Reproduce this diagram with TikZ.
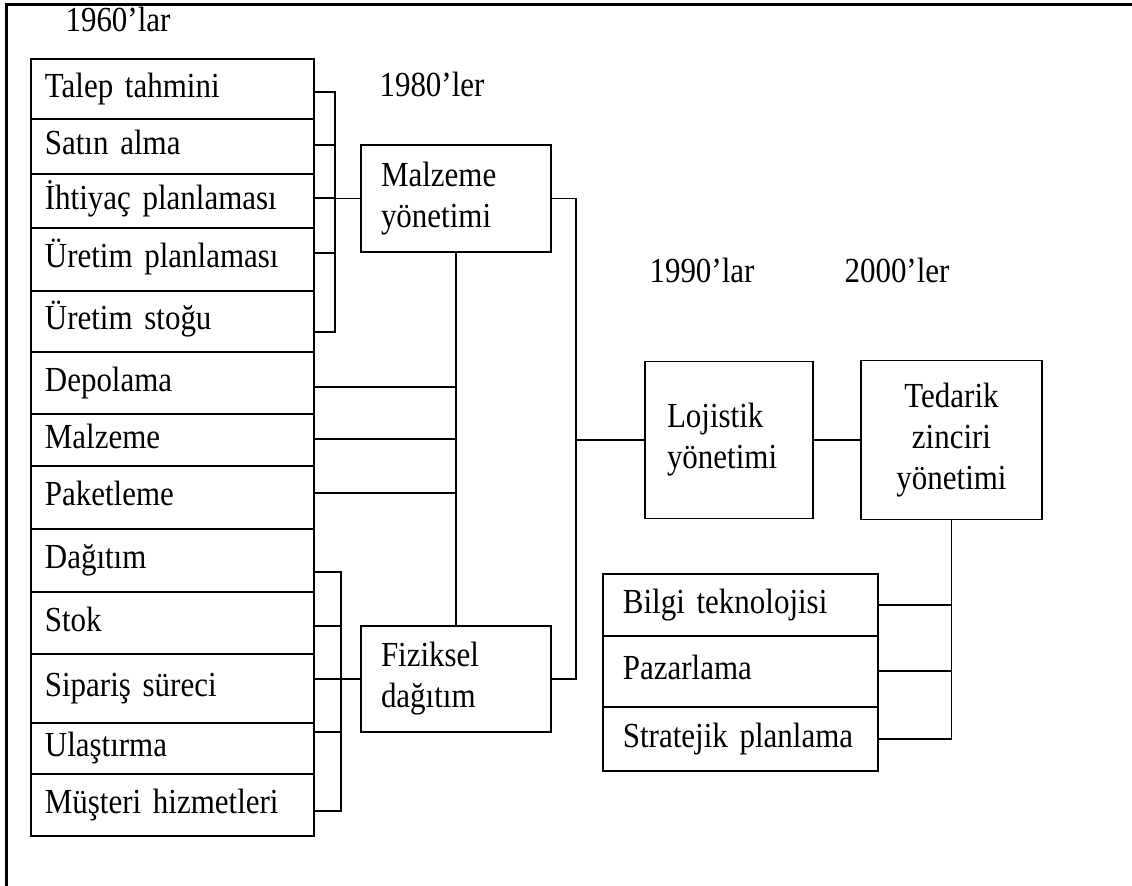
\documentclass[tikz,border=0pt]{standalone}
\usepackage{fontspec}
\setmainfont[FakeStretch=0.88]{Liberation Serif}
\begin{document}
\begin{tikzpicture}[x=0.5pt,y=-0.5pt,
  every node/.style={font=\fontsize{17.6}{20.5}\selectfont},
  line/.style={line width=0.9pt},
  cell/.style={draw, line width=0.9pt, anchor=north west, text width=127.5pt,
    inner xsep=7pt, inner ysep=0pt, align=left, minimum width=141.5pt,
    execute at begin node=\strut},
  rcell/.style={cell, text width=117.5pt, inner xsep=10pt, minimum width=137.5pt},
  block/.style={draw, line width=0.9pt, inner ysep=0pt},
  year/.style={inner sep=0pt}]

\useasboundingbox (0,0) rectangle (1132,886);
% frame
\draw[line width=1.5pt] (1132,5) -- (6,5) -- (6,886);

% decade labels
\node[year, anchor=base] (y60) at (118,32) {1960'lar};
\node[year] (y80) at (432,84) {1980'ler};
\node[year] (y90) at (702,270) {1990'lar};
\node[year] (y00) at (897,270) {2000'ler};

% left column of activities
\node[cell, minimum height=30pt]   (r1)  at (30,58)  {Talep tahmini};
\node[cell, minimum height=27.5pt] (r2)  at (30,118) {Satın alma};
\node[cell, minimum height=27pt]   (r3)  at (30,173) {İhtiyaç planlaması};
\node[cell, minimum height=31.5pt] (r4)  at (30,227) {Üretim planlaması};
\node[cell, minimum height=30.5pt] (r5)  at (30,290) {Üretim stoğu};
\node[cell, minimum height=31pt]   (r6)  at (30,351) {Depolama};
\node[cell, minimum height=26pt]   (r7)  at (30,413) {Malzeme};
\node[cell, minimum height=31.5pt] (r8)  at (30,465) {Paketleme};
\node[cell, minimum height=31.5pt] (r9)  at (30,528) {Dağıtım};
\node[cell, minimum height=31pt]   (r10) at (30,591) {Stok};
\node[cell, minimum height=34.5pt] (r11) at (30,653) {Sipariş süreci};
\node[cell, minimum height=25.5pt] (r12) at (30,722) {Ulaştırma};
\node[cell, minimum height=31pt]   (r13) at (30,773) {Müşteri hizmetleri};

% management stages
\node[block, minimum width=95pt, minimum height=53.5pt, text width=75pt,
      inner xsep=10pt, align=left] (mal) at (456,198.5) {Malzeme\\yönetimi};
\node[block, minimum width=95pt, minimum height=53pt, text width=75pt,
      inner xsep=10pt, align=left] (fiz) at (456,679) {Fiziksel\\dağıtım};
\node[block, minimum width=84pt, minimum height=78.5pt, text width=62pt,
      inner xsep=11pt, align=left] (loj) at (729,440) {Lojistik\\yönetimi};
\node[block, minimum width=90.5pt, minimum height=79.5pt, text width=80pt,
      inner xsep=5pt, align=center] (ted) at (951.5,440) {Tedarik\\zinciri\\yönetimi};

% right column of activities
\node[rcell, minimum height=31pt]   (b1) at (602,573) {Bilgi teknolojisi};
\node[rcell, minimum height=35.5pt] (b2) at (602,635) {Pazarlama};
\node[rcell, minimum height=32pt]   (b3) at (602,706) {Stratejik planlama};

% spines of the brackets
\coordinate (sA) at (335,0);
\coordinate (sB) at (341,0);
\coordinate (sC) at (576,0);

% upper bracket into materials management
\draw[line] (r1.east |- 0,92) -| (sA |- 0,332) -- (r5.east |- 0,332);
\foreach \r/\y in {r2/145, r3/198, r4/253}
  \draw[line] (\r.east |- 0,\y) -- (sA |- 0,\y);
\draw[line] (mal.west) -- (mal.west -| sA);

% shared activities
\foreach \r/\y in {r6/387, r7/439, r8/493}
  \draw[line] (\r.east |- 0,\y) -- (mal.south |- 0,\y);
\draw[line] (mal.south) -- (fiz.north);

% lower bracket into physical distribution
\draw[line] (r9.east |- 0,572) -| (sB |- 0,811) -- (r13.east |- 0,811);
\foreach \r/\y in {r10/626, r11/679, r12/732}
  \draw[line] (\r.east |- 0,\y) -- (sB |- 0,\y);
\draw[line] (fiz.west) -- (fiz.west -| sB);

% towards logistics and supply chain management
\draw[line] (mal.east) -| (sC |- fiz.east) -- (fiz.east);
\draw[line] (loj.west) -- (loj.west -| sC);
\draw[line] (loj.east) -- (ted.west);
\draw[line] (ted.south) |- (b3.east);
\draw[line] (b1.east) -- (b1.east -| ted.south);
\draw[line] (b2.east) -- (b2.east -| ted.south);
\end{tikzpicture}
\end{document}
